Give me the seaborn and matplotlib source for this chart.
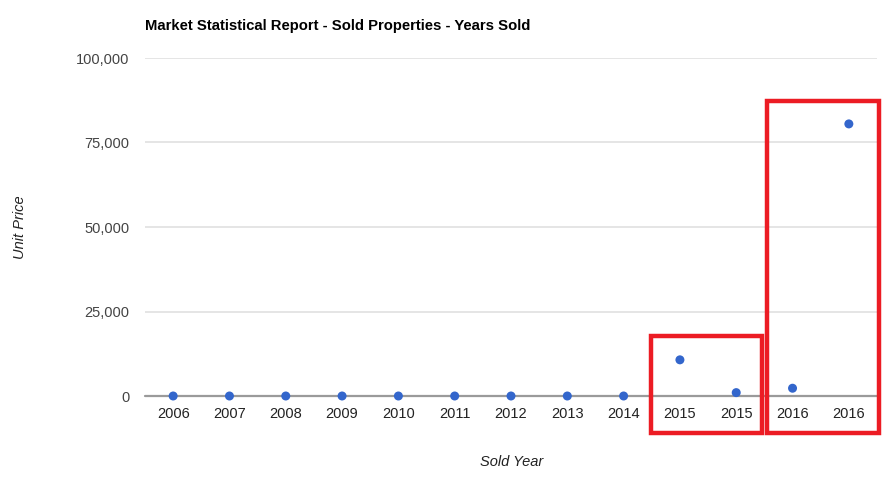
import matplotlib
matplotlib.use("Agg")
import matplotlib.pyplot as plt
import seaborn as sns
import pandas as pd
from matplotlib.patches import Rectangle
from matplotlib.ticker import FuncFormatter

years = ["2006", "2007", "2008", "2009", "2010", "2011", "2012", "2013", "2014",
         "2015", "2015", "2016", "2016"]
unit_price = [0, 0, 0, 0, 0, 0, 0, 0, 0, 10700, 1000, 2300, 80500]
y_ticks = [0, 25000, 50000, 75000, 100000]
title = "Market Statistical Report - Sold Properties - Years Sold"
x_title = "Sold Year"
y_title = "Unit Price"

df = pd.DataFrame({"pos": range(len(years)), "year": years, "price": unit_price})

sns.set_theme(style="white")
plt.rcParams["font.family"] = ["Liberation Sans", "DejaVu Sans"]

fig = plt.figure(figsize=(8.94, 4.79), dpi=100)
ax = fig.add_axes([145 / 894, 1 - 396 / 479, (877 - 145) / 894, (396 - 58) / 479])

sns.scatterplot(data=df, x="pos", y="price", ax=ax, color="#3366cc", s=42,
                edgecolor="none", linewidth=0, clip_on=False, zorder=5)

ax.set_xlim(-0.5, len(years) - 0.5)
ax.set_ylim(0, 100000)
ax.set_yticks(y_ticks)
ax.yaxis.set_major_formatter(FuncFormatter(lambda v, p: f"{int(v):,}"))
ax.set_xticks(df["pos"])
ax.set_xticklabels(years)
ax.tick_params(axis="y", length=0, pad=11, labelsize=10.5, labelcolor="#444444")
ax.tick_params(axis="x", length=0, pad=8, labelsize=10.5, labelcolor="#222222")

for v in y_ticks[1:]:
    ax.axhline(v, color="#e3e3e3", lw=1.3, zorder=1)
ax.axhline(0, color="#9a9a9a", lw=1.6, zorder=2, clip_on=False)
for s in ax.spines.values():
    s.set_visible(False)

ax.set_xlabel(x_title, fontsize=10.5, style="italic", color="#222222")
ax.xaxis.set_label_coords(0.501, -0.195)
ax.xaxis.label.set_va("center")
ax.set_ylabel(y_title, fontsize=10.5, style="italic", color="#222222")
ax.yaxis.set_label_coords((19.5 - 145) / 732, (396 - 227.5) / 338)
ax.yaxis.label.set_va("center")

fig.text(145 / 894, 1 - 26 / 479, title, fontsize=10.7, fontweight="bold",
         color="#000000", ha="left", va="center")

# red highlight boxes (annotation)
for (x0, x1, y0, y1) in [(8.49, 10.45, -10960, 17860), (10.55, 12.53, -10960, 87170)]:
    ax.add_patch(Rectangle((x0, y0), x1 - x0, y1 - y0, fill=False,
                           edgecolor="#ec1c24", lw=3.2, clip_on=False, zorder=6))

fig.savefig("out.png", dpi=100, facecolor="white")
